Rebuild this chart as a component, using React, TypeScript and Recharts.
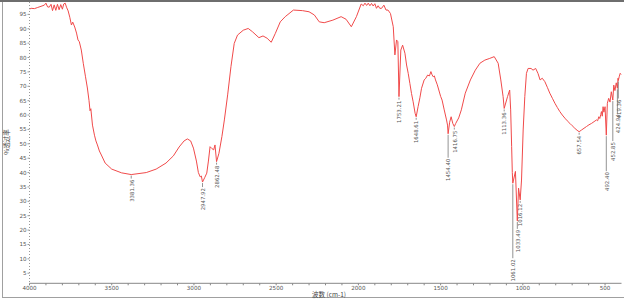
import React from 'react';
import { LineChart, Line, XAxis, YAxis, ReferenceDot } from 'recharts';

// wavenumber (cm-1) and %T
const wavenumbers = [
  4000, 3990, 3970, 3950, 3930, 3910, 3900, 3890, 3880, 3869, 3860, 3850, 3840, 3830, 3820, 3810, 3800, 3792, 3783, 3775,
  3765, 3755, 3745, 3737, 3725, 3714, 3705, 3697, 3685, 3673, 3660, 3648, 3638, 3632, 3627, 3617, 3605, 3596, 3587, 3575,
  3563, 3540, 3500, 3440, 3381.36, 3290, 3230, 3170, 3125, 3090, 3060, 3040, 3020, 3003, 2985, 2973, 2962, 2955, 2947.92, 2935,
  2922, 2912, 2902, 2890, 2880, 2872, 2862.48, 2848, 2830, 2815, 2795, 2775, 2755, 2735, 2700, 2670, 2645, 2605, 2580, 2555,
  2530, 2505, 2475, 2445, 2395, 2340, 2300, 2268, 2238, 2208, 2155, 2105, 2075, 2043, 2012, 1983, 1970, 1960, 1950, 1940,
  1930, 1920, 1910, 1900, 1890, 1880, 1870, 1859, 1845, 1832, 1820, 1805, 1788, 1778, 1768, 1760, 1753.21, 1742, 1731, 1717,
  1707, 1697, 1687, 1677, 1667, 1655, 1648.61, 1637, 1626, 1616, 1600, 1590, 1579, 1568, 1559, 1552, 1545, 1538, 1531, 1520,
  1511, 1500, 1491, 1478, 1464, 1458, 1454.4, 1445, 1436, 1426, 1416.75, 1408, 1390, 1374, 1350, 1319, 1289, 1261, 1231, 1201,
  1174, 1150, 1134, 1120, 1113.36, 1093, 1080, 1074, 1068, 1064, 1061.02, 1045, 1033.49, 1026, 1016.12, 1008, 998, 988, 978, 968,
  950, 938, 922, 908, 895, 882, 866, 850, 836, 820, 805, 790, 775, 760, 744, 730, 714, 700, 684, 670,
  657.54, 643, 628, 613, 598, 582, 567, 552, 545, 538, 532, 526, 522, 517, 512, 507, 500, 492.4, 486, 478,
  470, 462, 452.85, 447, 440, 432, 424.94, 421, 419.36, 414, 408, 400,
];
const transmittance = [
  96.8, 97.1, 97.0, 97.4, 97.8, 98.2, 98.9, 97.6, 97.5, 98.5, 96.3, 98.3, 96.4, 98.5, 96.6, 98.4, 96.8, 98.6, 98.9, 97.5,
  96.2, 94.0, 91.3, 92.3, 90.6, 88.5, 86.1, 85.5, 82.6, 78.0, 73.5, 69.4, 65.0, 61.5, 62.2, 56.5, 53.0, 51.0, 49.6, 47.5,
  46.1, 43.3, 41.2, 39.9, 39.3, 40.0, 41.2, 43.3, 45.8, 48.9, 51.0, 51.7, 51.0, 48.5, 44.0, 40.0, 38.5, 38.8, 36.7, 38.2,
  39.8, 44.0, 49.0, 48.3, 47.9, 49.6, 43.8, 46.7, 52.5, 58.3, 67.0, 76.8, 84.9, 87.8, 89.5, 90.1, 89.0, 86.9, 87.5, 86.7,
  85.3, 88.4, 92.4, 94.2, 96.5, 96.3, 95.9, 94.8, 92.4, 92.1, 93.0, 94.2, 93.3, 90.7, 94.2, 98.6, 98.0, 98.9, 98.1, 98.9,
  98.0, 98.8, 97.9, 98.7, 97.1, 98.0, 97.1, 97.1, 98.2, 96.5, 96.5, 95.3, 90.7, 80.9, 86.1, 85.5, 66.4, 82.6, 84.3, 81.5,
  77.4, 74.5, 71.0, 67.5, 64.6, 60.6, 59.4, 62.9, 66.0, 69.3, 72.2, 72.8, 73.9, 73.6, 75.1, 74.0, 73.3, 73.6, 72.2, 70.5,
  68.7, 66.5, 65.2, 61.8, 58.3, 56.5, 53.5, 57.5, 59.4, 57.1, 56.0, 57.1, 59.0, 61.8, 67.6, 72.2, 75.6, 78.0, 79.1, 79.7,
  80.3, 78.0, 72.2, 66.4, 62.3, 66.4, 68.7, 61.8, 49.0, 40.0, 36.3, 40.4, 23.2, 34.6, 30.5, 37.4, 54.8, 66.4, 74.5, 76.2,
  76.2, 75.6, 76.2, 74.5, 72.2, 72.8, 71.6, 69.5, 67.6, 65.8, 64.1, 62.6, 61.2, 60.0, 58.9, 58.0, 57.1, 56.3, 55.4, 54.7,
  54.2, 54.8, 55.4, 56.0, 56.6, 57.1, 57.7, 58.3, 58.0, 59.4, 58.8, 60.2, 61.2, 59.6, 62.9, 61.0, 62.9, 53.0, 64.1, 65.8,
  64.5, 68.1, 65.2, 70.4, 68.5, 71.2, 69.3, 72.8, 72.0, 73.3, 74.5, 74.0,
];

const peakWn = [3381.36, 2947.92, 2862.48, 1753.21, 1648.61, 1454.4, 1416.75, 1113.36, 1061.02, 1033.49, 1016.12, 657.54, 492.4, 452.85, 424.94, 419.36];
const peakText = ['3381.36', '2947.92', '2862.48', '1753.21', '1648.61', '1454.40', '1416.75', '1113.36', '1061.02', '1033.49', '1016.12', '657.54', '492.40', '452.85', '424.94', '419.36'];
// leader line length below each peak (px)
const peakLead = [4, 5, 3, 3, 3, 24, 3, 3, 75, 8, 3, 3, 36, 41, 25, 18];

const yTicks = [5, 10, 15, 20, 25, 30, 35, 40, 45, 50, 55, 60, 65, 70, 75, 80, 85, 90, 95];
const xTicks = [4000, 3900, 3800, 3700, 3600, 3500, 3400, 3300, 3200, 3100, 3000, 2900, 2800, 2700, 2600, 2500, 2400, 2300, 2200, 2100, 2000, 1900, 1800, 1700, 1600, 1500, 1400, 1300, 1200, 1100, 1000, 900, 800, 700, 600, 500];

const data = wavenumbers.map((w, i) => ({ w, t: transmittance[i] }));

const font = '"DejaVu Sans", sans-serif';

const PeakMark = (props: any) => {
  const { cx, cy, text, lead } = props;
  if (cx == null || cy == null) return null;
  return (
    <g>
      <line x1={cx} y1={cy + 1} x2={cx} y2={cy + lead} stroke="#777" strokeWidth={0.8} />
      <text
        transform={`translate(${cx + 2.3},${cy + lead + 1}) rotate(-90)`}
        textAnchor="end"
        fontSize={5.4}
        fontFamily={font}
        fill="#555"
      >
        {text}
      </text>
    </g>
  );
};

export default function App() {
  return (
    <div style={{ position: 'absolute', left: 0, top: 0, width: 624, height: 300, background: '#fff' }}>
      <LineChart width={624} height={300} data={data} margin={{ top: 2, right: 2.5, bottom: 2.7, left: 0 }}>
        <XAxis
          dataKey="w"
          type="number"
          domain={[400, 4000]}
          reversed
          ticks={xTicks}
          interval={0}
          height={14}
          tickSize={2}
          tickMargin={1}
          tickFormatter={(v: number) => (v % 500 === 0 ? String(v) : '')}
          stroke="#888"
          tick={{ fontSize: 5.6, fontFamily: font, fill: '#555' }}
          allowDataOverflow
        />
        <YAxis
          type="number"
          domain={[1.5, 99.3]}
          ticks={yTicks}
          interval={0}
          width={29.5}
          tickSize={2}
          tickMargin={1}
          stroke="#999"
          axisLine={{ stroke: '#999', strokeDasharray: '1 2' }}
          tick={{ fontSize: 5.6, fontFamily: font, fill: '#555' }}
          allowDataOverflow
        />
        <Line
          type="linear"
          dataKey="t"
          stroke="#f04a4a"
          strokeWidth={1}
          dot={false}
          isAnimationActive={false}
        />
        {peakWn.map((w, i) => (
          <ReferenceDot
            key={w}
            x={w}
            y={transmittance[wavenumbers.indexOf(w)]}
            ifOverflow="visible"
            shape={(p: any) => <PeakMark {...p} text={peakText[i]} lead={peakLead[i]} />}
          />
        ))}
      </LineChart>
      <div style={{ position: 'absolute', left: 0, top: 0, width: 624, height: 2, background: '#6e6e6e' }} />
      <div style={{ position: 'absolute', left: 2, top: 2, width: 1, height: 295, background: '#a0a0a0' }} />
      <div style={{ position: 'absolute', left: 2, top: 297, width: 622, height: 1, background: '#a0a0a0' }} />
      <div
        style={{
          position: 'absolute',
          left: 312,
          top: 291,
          fontSize: 6.5,
          fontFamily: '"Noto Sans CJK SC", sans-serif',
          color: '#444',
          lineHeight: '7px',
          whiteSpace: 'nowrap',
        }}
      >
        波数 (cm-1)
      </div>
      <div
        style={{
          position: 'absolute',
          left: 6,
          top: 142,
          fontSize: 6.5,
          fontFamily: '"Noto Sans CJK SC", sans-serif',
          color: '#444',
          lineHeight: '7px',
          whiteSpace: 'nowrap',
          transform: 'translate(-50%, -50%) rotate(-90deg)',
        }}
      >
        %透过率
      </div>
    </div>
  );
}
